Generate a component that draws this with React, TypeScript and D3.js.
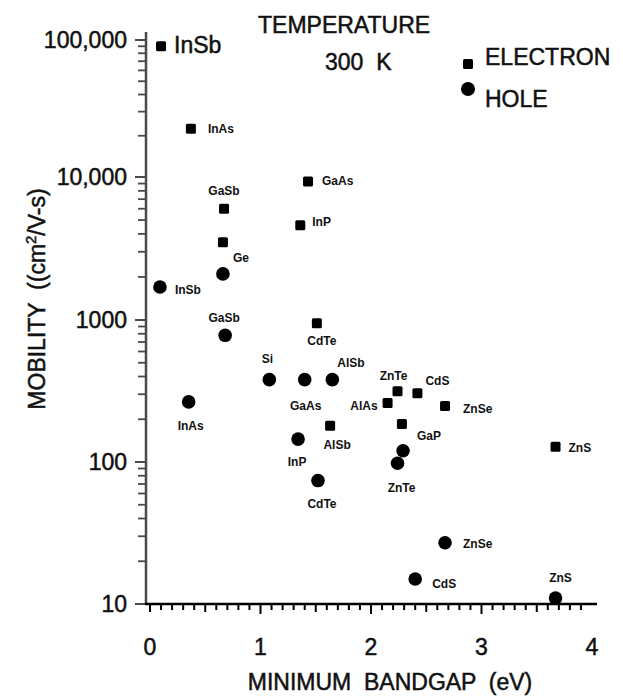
import React from 'react';
import * as d3 from 'd3';

// ---- Data ----
const electronNames = ['InSb', 'InAs', 'GaSb', 'Ge', 'GaAs', 'InP', 'CdTe', 'AlSb', 'ZnTe', 'CdS', 'AlAs', 'ZnSe', 'GaP', 'ZnS'];
const electronGap = [0.10, 0.37, 0.67, 0.66, 1.43, 1.36, 1.51, 1.63, 2.24, 2.42, 2.15, 2.67, 2.28, 3.67];
const electronMobility = [90000, 22500, 6000, 3500, 9300, 4600, 950, 180, 315, 305, 260, 248, 185, 128];

const holeNames = ['InSb', 'Ge', 'GaSb', 'InAs', 'Si', 'GaAs', 'AlSb', 'InP', 'CdTe', 'GaP', 'ZnTe', 'ZnSe', 'CdS', 'ZnS'];
const holeGap = [0.09, 0.66, 0.68, 0.35, 1.08, 1.40, 1.65, 1.34, 1.52, 2.29, 2.24, 2.67, 2.40, 3.67];
const holeMobility = [1700, 2100, 780, 265, 380, 380, 380, 145, 74, 120, 98, 27, 15, 11];

const yTickValues = [10, 100, 1000, 10000, 100000];
const yTickLabels = ['10', '100', '1000', '10,000', '100,000'];
const xTickValues = [0, 1, 2, 3, 4];
const xTickLabels = ['0', '1', '2', '3', '4'];

const titleLines = ['TEMPERATURE', '300  K'];
const legendLabels = ['ELECTRON', 'HOLE'];
const xTitle = 'MINIMUM  BANDGAP  (eV)';

// ---- Label layout (offsets from marker: dx, dy, anchor) ----
type Lbl = [number, number, 'start' | 'middle' | 'end'] | null;
const electronLabelLayout: Lbl[] = [
  [13, 7, 'start'], [17, 4, 'start'], [0, -14, 'middle'], [10, 20, 'start'],
  [14, 3, 'start'], [12, 1, 'start'], [5, 22, 'middle'], [7, 23, 'middle'],
  [-4, -11, 'middle'], [8, -8, 'start'], [-10, 7, 'end'], [18, 7, 'start'],
  [15, 16, 'start'], [13, 5, 'start'],
];
const holeLabelLayout: Lbl[] = [
  [15, 7, 'start'], null, [-1, -13, 'middle'], [2, 28, 'middle'],
  [-2, -17, 'middle'], [1, 30, 'middle'], [5, -13, 'start'], [-1, 27, 'middle'],
  [4, 27, 'middle'], null, [4, 29, 'middle'], [18, 5, 'start'],
  [17, 9, 'start'], [5, -16, 'middle'],
];

const FONT = '"Liberation Sans", Arial, Helvetica, sans-serif';

export default function App() {
  const W = 623;
  const H = 697;
  const x = d3.scaleLinear().domain([0, 4]).range([150, 592]);
  // piecewise log scale following the decade spacing of the reference
  const y = d3.scaleLog().domain([10, 100, 1000, 10000, 100000]).range([604, 462, 320, 177, 40]);

  const minorY: number[] = [];
  [10, 100, 1000, 10000].forEach((d) => {
    for (let k = 2; k <= 9; k++) minorY.push(k * d);
  });
  const xTicks = d3.range(0, 40).map((i) => i / 10);

  const axisX = 146;
  const axisY = 604;
  const axisGray = '#4a4a4a';

  const big = { fontSize: 23, fill: '#111', stroke: '#111', strokeWidth: 0.5 };

  return (
    <svg width={W} height={H} style={{ position: 'absolute', left: 0, top: 0, background: '#fff' }} fontFamily={FONT}>
      <rect x={0} y={0} width={W} height={H} fill="#fff" />

      {/* Y axis */}
      <line x1={axisX} x2={axisX} y1={32} y2={axisY} stroke={axisGray} strokeWidth={2.5} />
      {minorY.map((v, i) => (
        <line key={'my' + i} x1={axisX - 8} x2={axisX} y1={y(v)} y2={y(v)} stroke={axisGray} strokeWidth={1.8} />
      ))}
      {yTickValues.map((v, i) => (
        <line key={'My' + i} x1={axisX - 11} x2={axisX} y1={y(v)} y2={y(v)} stroke={axisGray} strokeWidth={2} />
      ))}
      {yTickValues.map((v, i) => (
        <text key={'ly' + i} x={127} y={y(v) + 8} textAnchor="end" {...big}>
          {yTickLabels[i]}
        </text>
      ))}

      {/* X axis */}
      <line x1={145} x2={597} y1={axisY} y2={axisY} stroke="#000" strokeWidth={2.4} />
      {xTicks.map((v, i) => {
        const isMajor = Math.abs(v - Math.round(v)) < 1e-6 && v > 0;
        const isHalf = Math.abs(v * 2 - Math.round(v * 2)) < 1e-6 && !isMajor;
        const len = isMajor ? 10 : isHalf ? 8 : 6;
        return <line key={'tx' + i} x1={x(v)} x2={x(v)} y1={axisY} y2={axisY + len} stroke="#000" strokeWidth={2} />;
      })}
      {xTickValues.map((v, i) => (
        <text key={'lx' + i} x={x(v)} y={655} textAnchor="middle" {...big}>
          {xTickLabels[i]}
        </text>
      ))}

      {/* Axis titles */}
      <text x={390} y={690} textAnchor="middle" {...big} style={{ whiteSpace: 'pre' }}>
        {xTitle}
      </text>
      <text transform="translate(45,299) rotate(-90)" textAnchor="middle" {...big} style={{ whiteSpace: 'pre' }}>
        {'MOBILITY  ((cm'}
        <tspan fontSize={15} dy={-9}>2</tspan>
        <tspan dy={9}>{'/V-s)'}</tspan>
      </text>

      {/* Title */}
      <text x={258} y={33} {...big}>{titleLines[0]}</text>
      <text x={325} y={70} {...big} style={{ whiteSpace: 'pre' }}>{titleLines[1]}</text>

      {/* Legend */}
      <rect x={463} y={59} width={10} height={10} rx={1.5} fill="#000" />
      <text x={485} y={65} {...big}>{legendLabels[0]}</text>
      <circle cx={468} cy={89} r={7} fill="#000" />
      <text x={485} y={107} {...big}>{legendLabels[1]}</text>

      {/* Electron markers */}
      {electronGap.map((g, i) => {
        const cx = x(g);
        const cy = y(electronMobility[i]);
        const lay = electronLabelLayout[i];
        const isBig = i === 0;
        return (
          <g key={'e' + i}>
            <rect x={cx - 5} y={cy - 5} width={10} height={10} rx={1.5} fill="#000" />
            {lay && (isBig ? (
              <text x={cx + lay[0]} y={cy + lay[1]} textAnchor={lay[2]} {...big}>
                {electronNames[i]}
              </text>
            ) : (
              <text x={cx + lay[0]} y={cy + lay[1]} textAnchor={lay[2]} fontSize={12} fontWeight="bold" fill="#111">
                {electronNames[i]}
              </text>
            ))}
          </g>
        );
      })}

      {/* Hole markers */}
      {holeGap.map((g, i) => {
        const cx = x(g);
        const cy = y(holeMobility[i]);
        const lay = holeLabelLayout[i];
        return (
          <g key={'h' + i}>
            <circle cx={cx} cy={cy} r={6.8} fill="#000" />
            {lay && (
              <text x={cx + lay[0]} y={cy + lay[1]} textAnchor={lay[2]} fontSize={12} fontWeight="bold" fill="#111">
                {holeNames[i]}
              </text>
            )}
          </g>
        );
      })}
    </svg>
  );
}
